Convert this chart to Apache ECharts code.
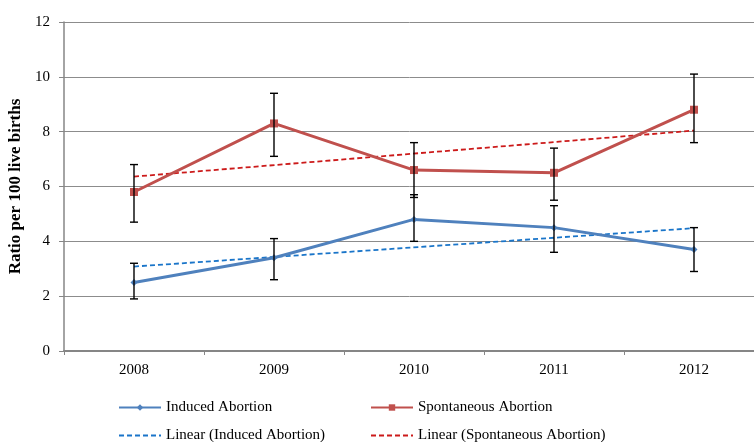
<!DOCTYPE html>
<html><head><meta charset="utf-8">
<script src="https://cdn.jsdelivr.net/npm/echarts@6/dist/echarts.min.js"></script>
<style>html,body{margin:0;padding:0;background:#fff}#c{width:754px;height:442px}</style>
</head><body><div id="c"></div>
<script>
var years = ['2008','2009','2010','2011','2012'];
var induced = [2.5, 3.4, 4.8, 4.5, 3.7];
var inducedLow = [1.9, 2.6, 4.0, 3.6, 2.9];
var inducedHigh = [3.2, 4.1, 5.7, 5.3, 4.5];
var spont = [5.8, 8.3, 6.6, 6.5, 8.8];
var spontLow = [4.7, 7.1, 5.6, 5.5, 7.6];
var spontHigh = [6.8, 9.4, 7.6, 7.4, 10.1];
var inducedTrend = [3.08, null, null, null, 4.48];
var spontTrend = [6.36, null, null, null, 8.04];
var yTicks = [0, 2, 4, 6, 8, 10, 12];

var FONT = '"Liberation Serif", "Times New Roman", serif';
var chart = echarts.init(document.getElementById('c'), null, {renderer: 'canvas'});

function errData(lo, hi) {
  return years.map(function (y, i) { return [i, lo[i], hi[i]]; });
}
function errRender(params, api) {
  var x = api.value(0);
  var lo = api.coord([x, api.value(1)]);
  var hi = api.coord([x, api.value(2)]);
  var w = 4;
  var st = {stroke: '#000', lineWidth: 1.4};
  return {type: 'group', children: [
    {type: 'line', shape: {x1: lo[0], y1: lo[1], x2: hi[0], y2: hi[1]}, style: st},
    {type: 'line', shape: {x1: lo[0]-w, y1: lo[1], x2: lo[0]+w, y2: lo[1]}, style: st},
    {type: 'line', shape: {x1: hi[0]-w, y1: hi[1], x2: hi[0]+w, y2: hi[1]}, style: st}
  ]};
}
function leg(item, left, top) {
  return {data: [item], left: left, top: top, itemWidth: 42, itemHeight: 8, itemGap: 5,
    textStyle: {fontFamily: FONT, fontSize: 15, color: '#000'}, selectedMode: false, padding: 0};
}

chart.setOption({
  animation: false,
  grid: {left: 64, top: 22, height: 329, width: 700, outerBoundsMode: 'none', containLabel: false},
  xAxis: {
    type: 'category', data: years, boundaryGap: true,
    axisLine: {lineStyle: {color: '#868686', width: 2}},
    axisTick: {show: true, length: 4, lineStyle: {color: '#868686'}},
    axisLabel: {fontFamily: FONT, fontSize: 15, color: '#000', margin: 12}
  },
  yAxis: {
    type: 'value', min: yTicks[0], max: yTicks[yTicks.length-1], interval: 2,
    name: 'Ratio per 100 live births', nameLocation: 'middle', nameGap: 35,
    nameTextStyle: {fontFamily: FONT, fontSize: 17, fontWeight: 'bold', color: '#000'},
    axisLine: {show: true, lineStyle: {color: '#868686', width: 1.5}},
    axisTick: {show: true, length: 5, lineStyle: {color: '#868686'}},
    splitLine: {lineStyle: {color: '#8c8c8c', width: 1}},
    axisLabel: {fontFamily: FONT, fontSize: 15, color: '#000', margin: 14}
  },
  legend: [
    leg('Induced Abortion', 118, 400),
    leg('Spontaneous Abortion', 370, 400),
    leg({name: 'Linear (Induced Abortion)', itemStyle: {opacity: 0}}, 118, 428),
    leg({name: 'Linear (Spontaneous Abortion)', itemStyle: {opacity: 0}}, 370, 428)
  ],
  series: [
    {name: 'Linear (Induced Abortion)', type: 'line', data: inducedTrend, connectNulls: true,
      symbol: 'none', showSymbol: false, lineStyle: {color: '#1a75c9', width: 1.8, type: [5, 3]}, itemStyle: {color: '#1a75c9'}, z: 2},
    {name: 'Linear (Spontaneous Abortion)', type: 'line', data: spontTrend, connectNulls: true,
      symbol: 'none', showSymbol: false, lineStyle: {color: '#cc1a1a', width: 1.8, type: [5, 3]}, itemStyle: {color: '#cc1a1a'}, z: 2},
    {name: 'Induced Abortion', type: 'line', data: induced, symbol: 'diamond', symbolSize: 7,
      lineStyle: {color: '#4F81BD', width: 3}, itemStyle: {color: '#4F81BD'}, z: 3},
    {name: 'Spontaneous Abortion', type: 'line', data: spont, symbol: 'rect', symbolSize: 8,
      lineStyle: {color: '#C0504D', width: 3}, itemStyle: {color: '#C0504D'}, z: 3},
    {type: 'custom', renderItem: errRender, data: errData(inducedLow, inducedHigh), z: 4, silent: true},
    {type: 'custom', renderItem: errRender, data: errData(spontLow, spontHigh), z: 4, silent: true}
  ]
});
</script></body></html>
